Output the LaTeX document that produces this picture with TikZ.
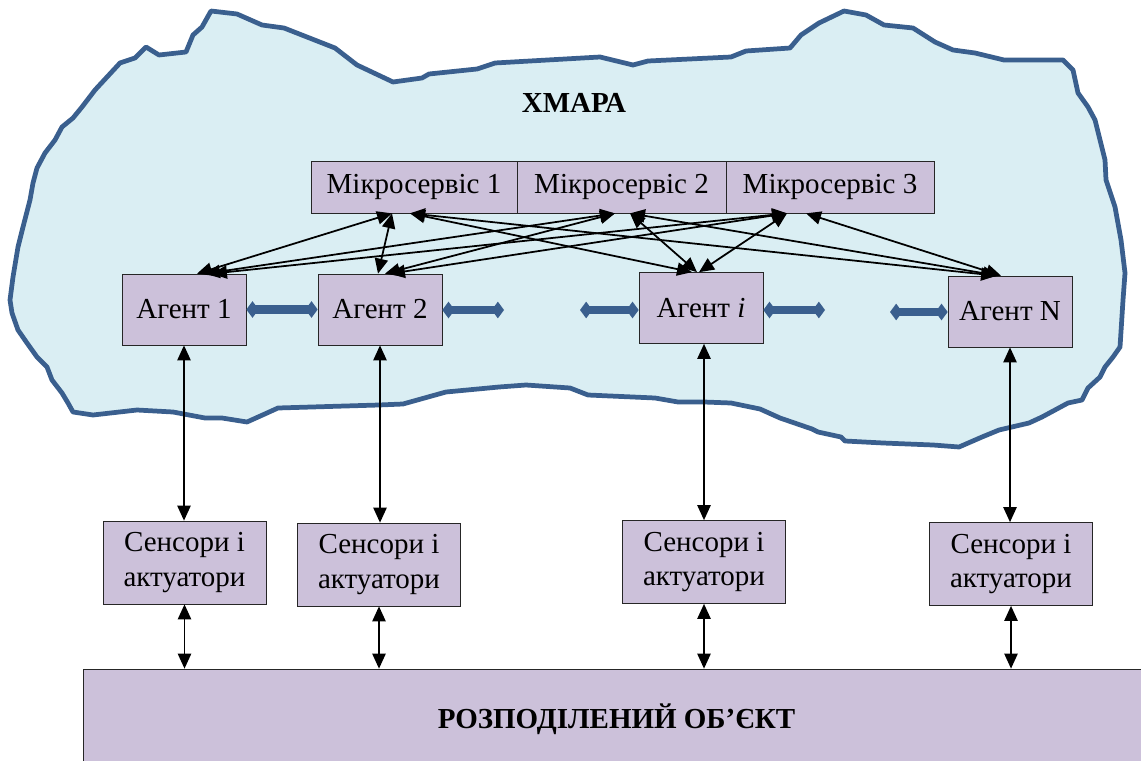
\documentclass[tikz,border=0pt]{standalone}
\usepackage{fontspec}
\setmainfont{Liberation Serif}
\usetikzlibrary{arrows.meta}
\definecolor{hmarafill}{HTML}{DAEEF3}
\definecolor{hmaraedge}{HTML}{3A5F8E}
\definecolor{blokfill}{HTML}{CCC1DA}
\tikzset{
	blok/.style={draw=black!85, fill=blokfill, inner sep=0pt, align=center, font=\fontsize{16.5}{19.5}\selectfont},
	dvi/.style={<->, >={Triangle[length=8.5pt,width=7.5pt]}, line width=1pt},
	shyna/.style={{Kite[length=7pt,width=9.5pt,inset=3.5pt]}-{Kite[length=7pt,width=9.5pt,inset=3.5pt]}, line width=4.7pt, hmaraedge}
}

\begin{document}
\begin{tikzpicture}[x=0.02cm,y=-0.02cm]
				\clip (0,0) rectangle (1141,760);
				\draw[fill=hmarafill, draw=hmaraedge, line width=2.7pt, line join=round]
				(10,300) -- (13,277) -- (18,247) -- (23,227) -- (30,200) -- (33,183) -- (37,168) -- (45,153)
				-- (55,140) -- (62,127) -- (73,118) -- (82,107) -- (95,90) -- (120,63) -- (135,58) -- (146,47)
				-- (159,55) -- (186,52) -- (193,35) -- (202,27) -- (211,11) -- (237,14) -- (262,25) -- (284,28)
				-- (335,48) -- (357,65) -- (393,82) -- (422,78) -- (429,74) -- (477,69) -- (495,63) -- (600,57)
				-- (633,65) -- (648,61) -- (731,57) -- (746,51) -- (790,48) -- (801,35) -- (819,23) -- (844,11)
				-- (866,15) -- (884,25) -- (913,28) -- (935,42) -- (953,50) -- (975,53) -- (1004,60) -- (1063,60)
				-- (1073,70) -- (1078,93) -- (1088,107) -- (1095,120) -- (1105,160) -- (1106,180) -- (1115,207)
				-- (1121,240) -- (1125,273) -- (1123,300) -- (1120,347) -- (1113,357) -- (1105,367) -- (1100,377)
				-- (1088,388) -- (1082,400) -- (1068,403) -- (1055,410) -- (1042,417) -- (1029,423) -- (999,430)
				-- (982,437) -- (959,447) -- (933,445) -- (883,443) -- (845,441) -- (841,437) -- (818,432)
				-- (812,429) -- (780,418) -- (760,409) -- (731,403) -- (704,402) -- (678,402) -- (655,398)
				-- (588,395) -- (570,388) -- (526,385) -- (499,387) -- (446,392) -- (403,404) -- (379,405)
				-- (278,408) -- (267,413) -- (247,422) -- (222,418) -- (205,418) -- (173,412) -- (137,410)
				-- (93,415) -- (73,412) -- (68,403) -- (62,393) -- (52,380) -- (47,367) -- (37,357) -- (27,343)
				-- (18,330) -- (12,313) -- cycle;
				\node[font=\fontsize{16.5}{19.5}\selectfont\bfseries] (hmara) at (574,103) {ХМАРА};
				\node[blok, minimum width=4.12cm, minimum height=1.04cm] (ms1) at (414,187) {Мікросервіс 1};
				\node[blok, minimum width=4.18cm, minimum height=1.04cm] (ms2) at (621.5,187) {Мікросервіс 2};
				\node[blok, minimum width=4.16cm, minimum height=1.04cm] (ms3) at (830,187) {Мікросервіс 3};
				\node[blok, minimum width=2.48cm, minimum height=1.42cm] (a1) at (184,309.5) {Агент 1};
				\node[blok, minimum width=2.48cm, minimum height=1.42cm] (a2) at (380,309.5) {Агент 2};
				\node[blok, minimum width=2.48cm, minimum height=1.42cm] (ai) at (701,308) {Агент \textit{i}};
				\node[blok, minimum width=2.48cm, minimum height=1.42cm] (aN) at (1010,311.5) {Агент N};
				\node[blok, minimum width=3.26cm, minimum height=1.66cm] (s1) at (184.5,562.5) {Сенсори і\\актуатори};
				\node[blok, minimum width=3.26cm, minimum height=1.66cm] (s2) at (379,564.5) {Сенсори і\\актуатори};
				\node[blok, minimum width=3.26cm, minimum height=1.66cm] (s3) at (704,562) {Сенсори і\\актуатори};
				\node[blok, minimum width=3.26cm, minimum height=1.66cm] (s4) at (1011,564) {Сенсори і\\актуатори};
				\node[blok, minimum width=21.34cm, minimum height=2.02cm, font=\fontsize{16.5}{19.5}\selectfont\bfseries] (obj) at (616.5,719.5) {РОЗПОДІЛЕНИЙ ОБ’ЄКТ};
				\coordinate (d2) at (504,310);
				\coordinate (d3) at (580,310);
				\coordinate (d4) at (825,310);
				\coordinate (d5) at (890,312);
				\path[dvi]
				([xshift=-0.44cm]ms1.south) edge ([xshift=0.26cm]a1.north)
				([xshift=-0.44cm]ms1.south) edge ([xshift=-0.04cm]a2.north)
				([xshift=-0.08cm]ms1.south) edge ([xshift=-0.18cm]ai.north)
				([xshift=-0.08cm]ms1.south) edge ([xshift=-0.28cm]aN.north)
				([xshift=-0.13cm]ms2.south) edge ([xshift=0.42cm]a1.north)
				([xshift=-0.13cm]ms2.south) edge ([xshift=0.1cm]a2.north)
				([xshift=0.17cm]ms2.south) edge ([xshift=-0.08cm]ai.north)
				([xshift=0.17cm]ms2.south) edge ([xshift=-0.24cm]aN.north)
				([xshift=-0.86cm]ms3.south) edge ([xshift=0.56cm]a1.north)
				([xshift=-0.86cm]ms3.south) edge ([xshift=0.2cm]a2.north)
				([xshift=-0.86cm]ms3.south) edge ([xshift=-0.04cm]ai.north)
				([xshift=-0.48cm]ms3.south) edge ([xshift=-0.18cm]aN.north);
				\path[dvi]
				(a1.south) edge (a1.south |- s1.north)
				(a2.south) edge (a2.south |- s2.north)
				(s3.north |- ai.south) edge (s3.north)
				(aN.south) edge (aN.south |- s4.north)
				(s1.south) edge (s1.south |- obj.north)
				(s2.south) edge (s2.south |- obj.north)
				(s3.south) edge (s3.south |- obj.north)
				(s4.south) edge (s4.south |- obj.north);
				\draw[shyna] (a1.east) -- (a2.west);
				\draw[shyna] (a2.east |- d2) -- (d2);
				\draw[shyna] (d3) -- (ai.west |- d3);
				\draw[shyna] (ai.east |- d4) -- (d4);
				\draw[shyna] (d5) -- (aN.west |- d5);
			\end{tikzpicture}
\end{document}
